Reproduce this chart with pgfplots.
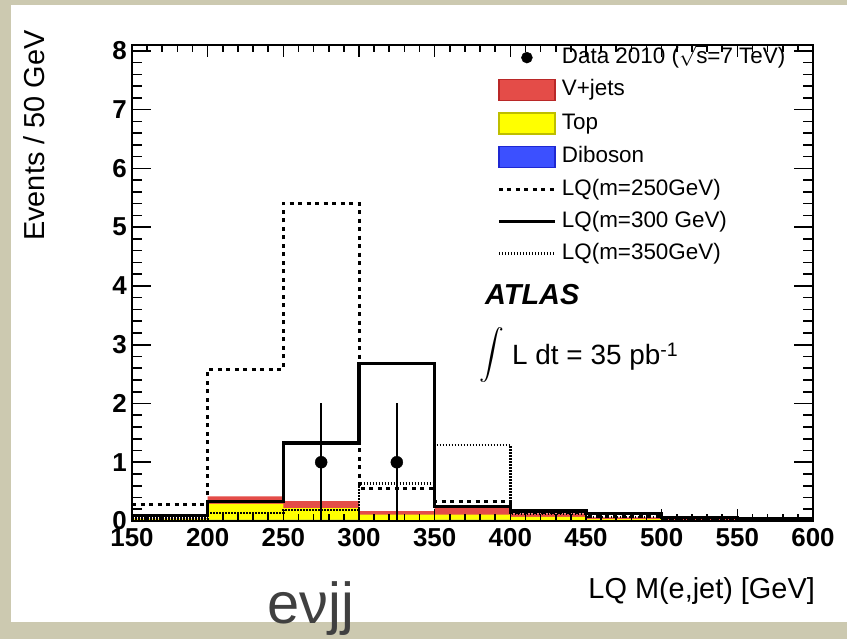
\documentclass[border=0pt]{standalone}
\usepackage{fontspec}
\setmainfont{Liberation Sans}
\usepackage{amsmath}
\usepackage{pgfplots}
\pgfplotsset{compat=1.18}
\definecolor{bg}{RGB}{204,201,176}
\definecolor{vjets}{RGB}{228,76,72}
\definecolor{vjetsedge}{RGB}{185,40,40}
\definecolor{topc}{RGB}{255,255,0}
\definecolor{topedge}{RGB}{190,190,0}
\definecolor{dib}{RGB}{60,80,255}
\definecolor{dibedge}{RGB}{30,40,210}
\definecolor{labgray}{RGB}{64,64,64}
\pgfplotsset{
  boxlegend/.style={legend image code/.code={%
    \draw[##1, line width=1.3bp] (0bp,-10.5bp) rectangle (56bp,10.5bp);
    \path[draw=none, fill=none] (0bp,0bp) (63bp,0bp);}},
  linelegend/.style={legend image code/.code={%
    \draw[##1] (0bp,0bp) -- (56bp,0bp);
    \path[draw=none, fill=none] (0bp,0bp) (63bp,0bp);}},
  marklegend/.style={legend image code/.code={%
    \draw[##1] plot coordinates {(28bp,0bp)};
    \path[draw=none, fill=none] (0bp,0bp) (63bp,0bp);}},
}
\begin{document}
\begin{tikzpicture}
\useasboundingbox (0bp,0bp) rectangle (847bp,639bp);
\fill[bg] (0bp,0bp) rectangle (847bp,639bp);
\fill[white] (11bp,17bp) rectangle (847bp,634bp);
\begin{axis}[
  at={(132bp,118bp)}, anchor=south west,
  scale only axis, width=681bp, height=476bp,
  xmin=150, xmax=600, ymin=0, ymax=8.1,
  xtick={150,200,...,600}, ytick={0,1,...,8},
  minor x tick num=4, minor y tick num=4,
  tick align=inside, tick pos=both,
  axis on top,
  axis line style={line width=2.4bp, black},
  every tick/.append style={line width=1.6bp, black},
  xtick style={/pgfplots/major tick length=12bp, /pgfplots/minor tick length=7bp},
  ytick style={/pgfplots/major tick length=19bp, /pgfplots/minor tick length=10bp},
  /pgf/number format/assume math mode=true,
  ticklabel style={font=\fontsize{26}{26}\selectfont\bfseries},
  xticklabel style={anchor=north, inner sep=0pt, yshift=-7bp},
  yticklabel style={anchor=east, inner sep=0pt, xshift=-5bp},
  xlabel={LQ M(e,jet) [GeV]},
  ylabel={Events / 50 GeV},
  every axis x label/.style={at={(axis description cs:1.003,-0.162)}, anchor=base east, inner sep=0pt, font=\fontsize{29}{29}\selectfont},
  every axis y label/.style={at={(axis description cs:-0.128,1.031)}, rotate=90, anchor=base east, inner sep=0pt, font=\fontsize{29}{29}\selectfont},
  legend style={at={(axis description cs:0.536,0.996)}, anchor=north west, draw=none, fill=none, inner sep=0pt, row sep=11bp, font=\fontsize{22.5}{22.5}\selectfont, nodes={inner sep=0pt, text height=16bp, text depth=5bp}},
  legend cell align=left,
]
\addlegendimage{marklegend, only marks, mark=*, mark size=5.5bp, black}
\addlegendentry{Data 2010 ($\sqrt{\text{s}}$=7 TeV)}
\addlegendimage{boxlegend, fill=vjets, draw=vjetsedge}
\addlegendentry{V+jets}
\addlegendimage{boxlegend, fill=topc, draw=topedge}
\addlegendentry{Top}
\addlegendimage{boxlegend, fill=dib, draw=dibedge}
\addlegendentry{Diboson}
\addlegendimage{linelegend, black, line width=3bp, dash pattern=on 4bp off 4.5bp}
\addlegendentry{LQ(m=250GeV)}
\addlegendimage{linelegend, black, line width=3.4bp}
\addlegendentry{LQ(m=300 GeV)}
\addlegendimage{linelegend, black, line width=2.4bp, dash pattern=on 1.5bp off 1.5bp}
\addlegendentry{LQ(m=350GeV)}

% stacked backgrounds: V+jets (total), Top (+Diboson), Diboson
\addplot[forget plot, const plot, fill=vjets, draw=none] coordinates {
 (150,0.04) (200,0.42) (250,0.34) (300,0.17) (350,0.23) (400,0.13) (450,0.06) (500,0.03) (550,0.02) (600,0.02)} \closedcycle;
\addplot[forget plot, const plot, fill=topc, draw=none] coordinates {
 (150,0.03) (200,0.29) (250,0.22) (300,0.11) (350,0.11) (400,0.07) (450,0.03) (500,0.015) (550,0.01) (600,0.01)} \closedcycle;
\addplot[forget plot, const plot, fill=dib, draw=none] coordinates {
 (150,0.004) (200,0.02) (250,0.02) (300,0.01) (350,0.02) (400,0.008) (450,0.005) (500,0.003) (550,0.002) (600,0.002)} \closedcycle;

% LQ signals
\addplot[forget plot, const plot, black, line width=3bp, dash pattern=on 4bp off 4.5bp] coordinates {
 (150,0.28) (200,2.58) (250,5.41) (300,0.55) (350,0.33) (400,0.15) (450,0.07) (500,0.03) (550,0.01) (600,0.01)};
\addplot[forget plot, const plot, black, line width=3.4bp] coordinates {
 (150,0.09) (200,0.33) (250,1.33) (300,2.68) (350,0.25) (400,0.17) (450,0.13) (500,0.06) (550,0.04) (600,0.04)};
\addplot[forget plot, const plot, black, line width=2.4bp, dash pattern=on 1.5bp off 1.5bp] coordinates {
 (150,0.04) (200,0.14) (250,0.19) (300,0.64) (350,1.29) (400,0.12) (450,0.07) (500,0.04) (550,0.02) (600,0.02)};

% data
\addplot[forget plot, only marks, mark=*, mark size=6bp, black,
  error bars/.cd, y dir=both, y explicit, error mark=none,
  error bar style={line width=2.2bp, black}] coordinates {
 (275,1) +- (0,1)
 (325,1) +- (0,1)};
\end{axis}
\node[anchor=base west, inner sep=0pt, font=\fontsize{29}{29}\selectfont\bfseries\itshape] at (485bp,334bp) {ATLAS};
\node[anchor=center, inner sep=0pt, font=\fontsize{28}{28}\selectfont] at (492bp,284bp) {$\displaystyle\int$};
\node[anchor=base west, inner sep=0pt, font=\fontsize{28}{28}\selectfont] at (512bp,274bp) {L dt = 35 pb\textsuperscript{-1}};
\node[anchor=base west, inner sep=0pt, text=labgray, font=\fontsize{58}{58}\selectfont] at (267bp,16bp) {eνjj};
\end{tikzpicture}
\end{document}
